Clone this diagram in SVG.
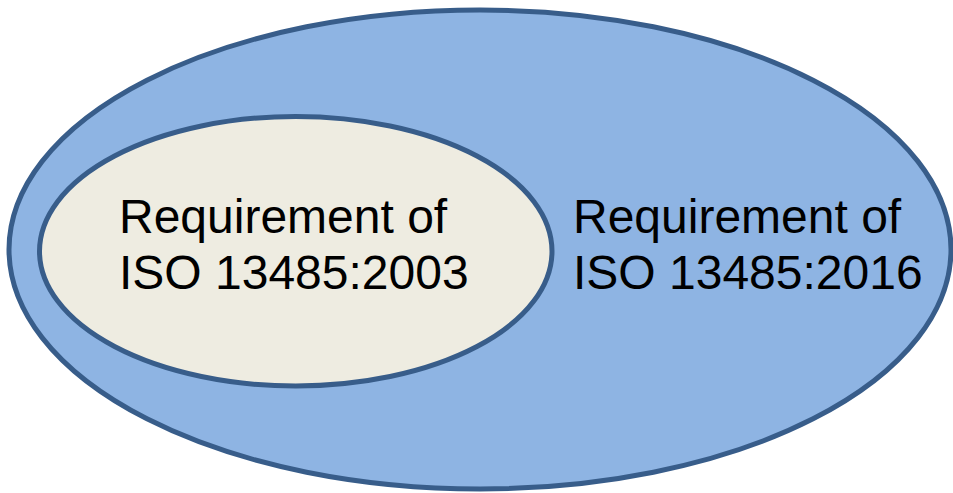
<svg xmlns="http://www.w3.org/2000/svg" width="953" height="493" viewBox="0 0 953 493">
<style>
.lbl{font-family:"Liberation Sans",Arial,sans-serif;font-size:48px;fill:#000}
.ring{stroke:#385D8A;stroke-width:5}
</style>
<rect width="953" height="493" fill="#fff"/>
<g id="iso2016">
<ellipse class="ring" cx="480" cy="249.5" rx="471" ry="239.5" fill="#8EB4E3"/>
<text class="lbl" x="573" y="233">Requirement of</text>
<text class="lbl" x="573" y="289">ISO 13485:2016</text>
</g>
<g id="iso2003">
<ellipse class="ring" cx="295.75" cy="251.25" rx="256.25" ry="134.75" fill="#EEECE1"/>
<text class="lbl" x="119" y="233">Requirement of</text>
<text class="lbl" x="119" y="289">ISO 13485:2003</text>
</g>
<g id="connectors"/>
</svg>
